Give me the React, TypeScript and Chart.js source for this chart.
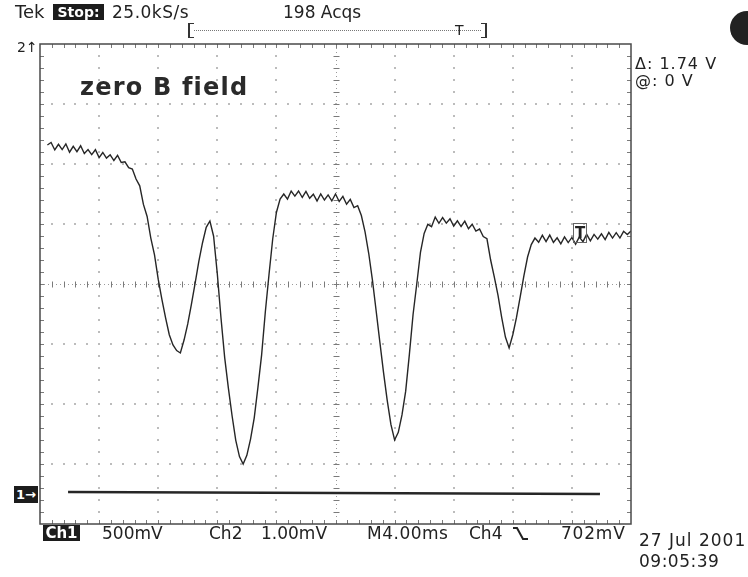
import React, { useEffect, useRef } from 'react';
import { Chart, registerables } from 'chart.js';

Chart.register(...registerables);

// ---- scope settings (500 mV/div, 4 ms/div, 10 x 8 divisions) ----
const X_MIN = 0;
const X_MAX = 40;
const X_DIV = 4;
const Y_MIN = -2;
const Y_MAX = 2;
const Y_DIV = 0.5;

// ---- Ch1 trace (time in ms, voltage in V relative to screen centre) ----
const timeMs = [
  0.5, 0.75, 1, 1.25, 1.5, 1.75, 2, 2.25, 2.5, 2.75, 3, 3.25, 3.5, 3.75, 4, 4.25,
  4.5, 4.75, 5, 5.25, 5.5, 5.75, 6, 6.25, 6.5, 6.75, 7, 7.25, 7.5, 7.75, 8, 8.25,
  8.5, 8.75, 9, 9.25, 9.5, 9.75, 10, 10.25, 10.5, 10.75, 11, 11.25, 11.5, 11.75, 12, 12.25,
  12.5, 12.75, 13, 13.25, 13.5, 13.75, 14, 14.25, 14.5, 14.75, 15, 15.25, 15.5, 15.75, 16, 16.25,
  16.5, 16.75, 17, 17.25, 17.5, 17.75, 18, 18.25, 18.5, 18.75, 19, 19.25, 19.5, 19.75, 20, 20.25,
  20.5, 20.75, 21, 21.25, 21.5, 21.75, 22, 22.25, 22.5, 22.75, 23, 23.25, 23.5, 23.75, 24, 24.25,
  24.5, 24.75, 25, 25.25, 25.5, 25.75, 26, 26.25, 26.5, 26.75, 27, 27.25, 27.5, 27.75, 28, 28.25,
  28.5, 28.75, 29, 29.25, 29.5, 29.75, 30, 30.25, 30.5, 30.75, 31, 31.25, 31.5, 31.75, 32, 32.25,
  32.5, 32.75, 33, 33.25, 33.5, 33.75, 34, 34.25, 34.5, 34.75, 35, 35.25, 35.5, 35.75, 36, 36.25,
  36.5, 36.75, 37, 37.25, 37.5, 37.75, 38, 38.25, 38.5, 38.75, 39, 39.25, 39.5, 39.75, 40,
];

const ch1Volts = [
  1.158, 1.179, 1.117, 1.164, 1.12, 1.167, 1.098, 1.147, 1.103, 1.152, 1.088, 1.121, 1.078, 1.119, 1.053, 1.096,
  1.049, 1.077, 1.029, 1.072, 1.012, 1.018, 0.969, 0.958, 0.875, 0.818, 0.663, 0.563, 0.383, 0.242, 0.04, -0.128,
  -0.283, -0.423, -0.508, -0.555, -0.575, -0.467, -0.333, -0.167, 0.007, 0.188, 0.344, 0.472, 0.525, 0.398, 0.085, -0.283,
  -0.613, -0.868, -1.098, -1.303, -1.438, -1.5, -1.428, -1.292, -1.115, -0.862, -0.591, -0.233, 0.079, 0.375, 0.596, 0.708,
  0.75, 0.708, 0.775, 0.733, 0.775, 0.721, 0.772, 0.714, 0.748, 0.692, 0.75, 0.7, 0.742, 0.692, 0.75, 0.688,
  0.73, 0.665, 0.705, 0.637, 0.653, 0.571, 0.434, 0.254, 0.032, -0.223, -0.482, -0.736, -0.97, -1.17, -1.3, -1.236,
  -1.091, -0.893, -0.587, -0.254, 0.0, 0.264, 0.421, 0.497, 0.478, 0.558, 0.506, 0.553, 0.507, 0.544, 0.482, 0.527,
  0.479, 0.524, 0.46, 0.498, 0.441, 0.458, 0.395, 0.377, 0.2, 0.057, -0.095, -0.28, -0.442, -0.533, -0.423, -0.279,
  -0.107, 0.068, 0.225, 0.328, 0.383, 0.348, 0.406, 0.353, 0.408, 0.347, 0.385, 0.334, 0.393, 0.345, 0.388, 0.332,
  0.392, 0.353, 0.414, 0.359, 0.413, 0.374, 0.418, 0.37, 0.43, 0.383, 0.428, 0.383, 0.439, 0.412, 0.442,
];

// ---- flat reference trace near the bottom ----
const refTimeMs = [1.9, 37.9];
const refVolts = [-1.733, -1.75];

const FONT = "'DejaVu Sans', 'Liberation Sans', sans-serif";

const scopeGrid = {
  id: 'scopeGrid',
  beforeDatasetsDraw(chart: any) {
    const { ctx, chartArea: a, scales } = chart;
    const xs = scales.x;
    const ys = scales.y;
    const xMinor = X_DIV / 5;
    const yMinor = Y_DIV / 5;
    const xC = (X_MIN + X_MAX) / 2;
    const yC = (Y_MIN + Y_MAX) / 2;
    ctx.save();
    // dotted division lines
    ctx.fillStyle = '#bcbcbc';
    for (let gx = X_MIN + X_DIV; gx < X_MAX - 1e-9; gx += X_DIV) {
      if (Math.abs(gx - xC) < 1e-9) continue;
      const px = Math.round(xs.getPixelForValue(gx));
      for (let gy = Y_MIN + yMinor; gy < Y_MAX - 1e-9; gy += yMinor) {
        const py = Math.round(ys.getPixelForValue(gy));
        ctx.fillRect(px - 1, py - 1, 2, 2);
      }
    }
    for (let gy = Y_MIN + Y_DIV; gy < Y_MAX - 1e-9; gy += Y_DIV) {
      if (Math.abs(gy - yC) < 1e-9) continue;
      const py = Math.round(ys.getPixelForValue(gy));
      for (let gx = X_MIN + xMinor; gx < X_MAX - 1e-9; gx += xMinor) {
        const px = Math.round(xs.getPixelForValue(gx));
        ctx.fillRect(px - 1, py - 1, 2, 2);
      }
    }
    // centre cross with minor ticks
    const cx = Math.round(xs.getPixelForValue(xC)) + 0.5;
    const cy = Math.round(ys.getPixelForValue(yC)) + 0.5;
    ctx.strokeStyle = '#9a9a9a';
    ctx.lineWidth = 1;
    ctx.setLineDash([1, 3]);
    ctx.beginPath();
    ctx.moveTo(a.left, cy);
    ctx.lineTo(a.right, cy);
    ctx.moveTo(cx, a.top);
    ctx.lineTo(cx, a.bottom);
    ctx.stroke();
    ctx.setLineDash([]);
    ctx.strokeStyle = '#7a7a7a';
    ctx.beginPath();
    for (let gx = X_MIN + xMinor; gx < X_MAX - 1e-9; gx += xMinor) {
      const px = Math.round(xs.getPixelForValue(gx)) + 0.5;
      ctx.moveTo(px, cy - 3);
      ctx.lineTo(px, cy + 3);
      ctx.moveTo(px, a.top);
      ctx.lineTo(px, a.top + 4);
      ctx.moveTo(px, a.bottom);
      ctx.lineTo(px, a.bottom - 4);
    }
    for (let gy = Y_MIN + yMinor; gy < Y_MAX - 1e-9; gy += yMinor) {
      const py = Math.round(ys.getPixelForValue(gy)) + 0.5;
      ctx.moveTo(cx - 3, py);
      ctx.lineTo(cx + 3, py);
      ctx.moveTo(a.left, py);
      ctx.lineTo(a.left + 4, py);
      ctx.moveTo(a.right, py);
      ctx.lineTo(a.right - 4, py);
    }
    ctx.stroke();
    ctx.restore();
  },
  afterDatasetsDraw(chart: any) {
    const { ctx, chartArea: a } = chart;
    ctx.save();
    ctx.strokeStyle = '#4a4a4a';
    ctx.lineWidth = 1.5;
    ctx.strokeRect(a.left, a.top, a.right - a.left, a.bottom - a.top);
    ctx.restore();
  },
};

function Label(props: { x: number; cy: number; size: number; children: any; style?: any }) {
  const { x, cy, size, children, style } = props;
  return (
    <div
      style={{
        position: 'absolute',
        left: x,
        top: cy - size * 0.6,
        fontSize: size,
        lineHeight: `${size * 1.2}px`,
        fontFamily: FONT,
        color: '#222',
        whiteSpace: 'nowrap',
        ...style,
      }}
    >
      {children}
    </div>
  );
}

export default function App() {
  const canvasRef = useRef<HTMLCanvasElement | null>(null);

  useEffect(() => {
    const canvas = canvasRef.current;
    if (!canvas) return;
    const chart = new Chart(canvas, {
      type: 'line',
      data: {
        datasets: [
          {
            label: 'Ch1',
            data: timeMs.map((t, i) => ({ x: t, y: ch1Volts[i] })),
            borderColor: '#262626',
            borderWidth: 1.4,
            pointRadius: 0,
            tension: 0,
            fill: false,
          },
          {
            label: 'Ref',
            data: refTimeMs.map((t, i) => ({ x: t, y: refVolts[i] })),
            borderColor: '#262626',
            borderWidth: 2.5,
            pointRadius: 0,
            tension: 0,
            fill: false,
          },
        ],
      },
      options: {
        animation: false,
        responsive: false,
        maintainAspectRatio: false,
        layout: { padding: { left: 40, top: 44, right: 117, bottom: 53 } },
        plugins: { legend: { display: false }, tooltip: { enabled: false }, title: { display: false } },
        scales: {
          x: { type: 'linear', min: X_MIN, max: X_MAX, display: false },
          y: { type: 'linear', min: Y_MIN, max: Y_MAX, display: false },
        },
      },
      plugins: [scopeGrid],
    });
    return () => chart.destroy();
  }, []);

  return (
    <div
      style={{
        position: 'absolute',
        left: 0,
        top: 0,
        width: 748,
        height: 577,
        overflow: 'hidden',
        background: '#fff',
      }}
    >
      <canvas ref={canvasRef} width={748} height={577} style={{ position: 'absolute', left: 0, top: 0 }} />

      {/* top status bar */}
      <Label x={15} cy={12} size={18}>Tek</Label>
      <div
        style={{
          position: 'absolute',
          left: 53,
          top: 4,
          width: 51,
          height: 16,
          background: '#1c1c1c',
          color: '#fff',
          fontFamily: FONT,
          fontWeight: 'bold',
          fontSize: 14,
          lineHeight: '16px',
          textAlign: 'center',
        }}
      >
        Stop:
      </div>
      <Label x={112} cy={12} size={17} style={{ letterSpacing: 0.5 }}>25.0kS/s</Label>
      <Label x={283} cy={12} size={17}>198 Acqs</Label>

      {/* record bracket */}
      <div style={{ position: 'absolute', left: 188, top: 23, width: 4, height: 13, borderLeft: '2px solid #333', borderTop: '1px solid #333', borderBottom: '1px solid #333' }} />
      <div style={{ position: 'absolute', left: 194, top: 30, width: 287, borderTop: '1px dotted #777' }} />
      <Label x={455} cy={30} size={14}>T</Label>
      <div style={{ position: 'absolute', left: 481, top: 23, width: 4, height: 13, borderRight: '2px solid #333', borderTop: '1px solid #333', borderBottom: '1px solid #333' }} />

      {/* corner disc */}
      <div style={{ position: 'absolute', left: 730, top: 11, width: 34, height: 34, borderRadius: '50%', background: '#222' }} />

      {/* channel markers */}
      <Label x={17} cy={47} size={14}>2↑</Label>
      <div
        style={{
          position: 'absolute',
          left: 14,
          top: 486,
          width: 24,
          height: 17,
          background: '#1c1c1c',
          color: '#fff',
          fontFamily: FONT,
          fontWeight: 'bold',
          fontSize: 13,
          lineHeight: '17px',
          textAlign: 'center',
        }}
      >
        1→
      </div>

      {/* annotation */}
      <Label x={80} cy={87} size={24} style={{ fontWeight: 'bold', letterSpacing: 1.2, color: '#2a2a2a' }}>zero B field</Label>

      {/* cursor readout */}
      <Label x={635} cy={64} size={16} style={{ letterSpacing: 1 }}>Δ: 1.74 V</Label>
      <Label x={635} cy={81} size={16} style={{ letterSpacing: 1 }}>@: 0 V</Label>

      {/* trigger marker */}
      <div
        style={{
          position: 'absolute',
          left: 573,
          top: 223,
          width: 12,
          height: 18,
          border: '1px solid #666',
          fontFamily: FONT,
          fontWeight: 'bold',
          fontSize: 15,
          lineHeight: '18px',
          textAlign: 'center',
          color: '#222',
        }}
      >
        T
      </div>

      {/* bottom readout */}
      <div
        style={{
          position: 'absolute',
          left: 43,
          top: 525,
          width: 37,
          height: 16,
          background: '#1c1c1c',
          color: '#fff',
          fontFamily: FONT,
          fontWeight: 'bold',
          fontSize: 15,
          lineHeight: '16px',
          textAlign: 'center',
        }}
      >
        Ch1
      </div>
      <Label x={102} cy={533} size={17}>500mV</Label>
      <Label x={209} cy={533} size={17}>Ch2</Label>
      <Label x={261} cy={533} size={17}>1.00mV</Label>
      <Label x={367} cy={533} size={17} style={{ letterSpacing: 0.5 }}>M4.00ms</Label>
      <Label x={469} cy={533} size={17}>Ch4</Label>
      <svg style={{ position: 'absolute', left: 512, top: 526 }} width={18} height={16}>
        <polyline points="1,2 5,2 11,13 16,13" fill="none" stroke="#222" strokeWidth={2} />
      </svg>
      <Label x={561} cy={533} size={17} style={{ letterSpacing: 0.8 }}>702mV</Label>
      <Label x={639} cy={540} size={17} style={{ letterSpacing: 1 }}>27 Jul 2001</Label>
      <Label x={639} cy={561} size={17} style={{ letterSpacing: 0.5 }}>09:05:39</Label>
    </div>
  );
}
